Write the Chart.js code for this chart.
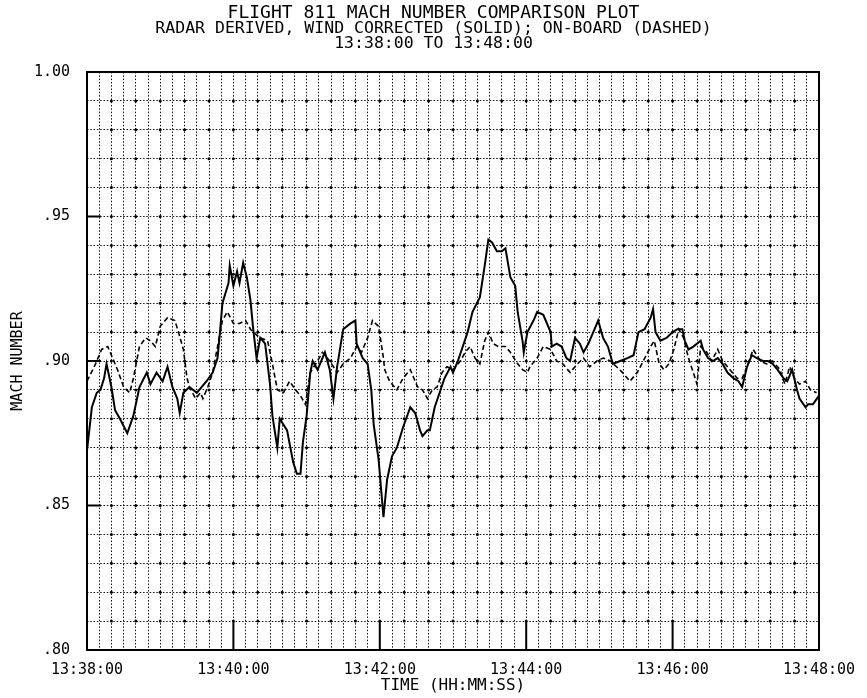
<!DOCTYPE html>
<html><head><meta charset="utf-8">
<script src="https://cdn.jsdelivr.net/npm/chart.js@4/dist/chart.umd.min.js"></script>
<style>html,body{margin:0;padding:0;background:#fff}#wrap{width:867px;height:698px;position:relative}</style>
</head><body><div id="wrap"><canvas id="c"></canvas></div>
<script>
const titleMain = 'FLIGHT 811 MACH NUMBER COMPARISON PLOT';
const titleSub = ['RADAR DERIVED, WIND CORRECTED (SOLID); ON-BOARD (DASHED)', '13:38:00 TO 13:48:00'];
const xTitle = 'TIME (HH:MM:SS)';
const yTitle = 'MACH NUMBER';
const timeLabels = ['13:38:00','13:40:00','13:42:00','13:44:00','13:46:00','13:48:00'];
const yLabels = {80:'.80',85:'.85',90:'.90',95:'.95',100:'1.00'};

// seconds after 13:38:00
const solidT = [0,4,8,11,14,16,20,23,27,33,38,43,49,52,57,62,66,70,74,76,79,84,90,98,103,107,109,111,116,117,120,123,125,128,131,134,136,139,142,146,150,152,156,158,164,169,172,175,177,180,183,185,189,195,199,202,205,210,216,220,221,226,230,233,235,239,243,246,250,254,259,265,269,273,275,279,281,285,289,293,298,300,304,312,316,322,326,329,332,336,340,343,347,351,353,357,358,361,366,369,374,380,381,385,389,393,396,400,404,407,411,415,419,423,427,431,437,443,448,452,457,462,464,466,470,475,480,484,488,490,493,497,503,505,509,513,517,521,525,530,534,537,541,545,549,554,558,562,566,571,574,578,582,584,589,591,595,600];
const solidV = [.869,.884,.889,.890,.894,.899,.891,.883,.880,.875,.881,.891,.896,.892,.896,.893,.898,.891,.887,.882,.889,.891,.889,.893,.896,.901,.910,.920,.927,.933,.926,.931,.927,.934,.929,.921,.912,.901,.908,.906,.892,.881,.870,.880,.876,.865,.861,.861,.872,.881,.896,.900,.897,.903,.897,.887,.898,.911,.913,.914,.906,.901,.899,.890,.878,.866,.846,.859,.867,.870,.877,.884,.882,.876,.874,.876,.876,.884,.889,.894,.898,.896,.900,.910,.917,.922,.933,.942,.941,.938,.938,.939,.929,.926,.917,.907,.903,.910,.914,.917,.916,.910,.905,.906,.905,.901,.900,.908,.906,.903,.906,.910,.914,.908,.905,.899,.900,.901,.902,.910,.911,.915,.918,.910,.907,.908,.910,.911,.911,.907,.904,.905,.907,.904,.901,.900,.901,.899,.896,.894,.893,.891,.898,.902,.901,.900,.900,.899,.897,.894,.893,.897,.890,.887,.884,.885,.885,.888];

const dashT = [0,7,12,17,21,25,30,35,38,43,48,52,56,60,66,72,75,79,82,84,89,93,95,99,103,107,111,115,120,125,130,134,136,142,148,152,156,161,166,171,175,179,183,189,193,199,205,210,216,221,225,230,234,239,243,244,248,254,259,265,271,275,279,283,287,291,295,300,306,310,314,318,322,326,329,333,337,343,347,353,357,361,363,369,374,380,385,390,396,402,407,412,418,423,429,434,439,445,451,456,462,465,469,473,477,481,485,489,493,497,500,503,508,512,517,521,527,533,537,541,546,552,557,562,568,572,576,580,584,589,593,598];
const dashV = [.893,.899,.904,.905,.901,.897,.891,.889,.894,.905,.908,.907,.905,.912,.915,.914,.910,.904,.894,.891,.887,.889,.887,.891,.896,.905,.914,.917,.913,.913,.914,.911,.910,.908,.907,.899,.890,.889,.893,.890,.888,.885,.896,.900,.903,.900,.896,.899,.901,.905,.903,.908,.914,.912,.901,.897,.893,.890,.894,.897,.891,.890,.887,.890,.891,.896,.898,.897,.900,.903,.905,.901,.899,.907,.910,.906,.905,.905,.903,.899,.897,.896,.898,.901,.905,.904,.900,.899,.896,.899,.901,.898,.900,.901,.900,.898,.896,.893,.896,.900,.905,.907,.899,.897,.899,.904,.911,.908,.901,.896,.892,.905,.903,.900,.904,.900,.897,.894,.894,.898,.904,.900,.899,.900,.897,.892,.898,.894,.892,.893,.890,.889];

const FONT = "'DejaVu Sans Mono', 'Liberation Mono', monospace";

const decor = {
  id: 'decor',
  beforeDatasetsDraw(chart) {
    const {ctx, chartArea: a, scales: {x, y}} = chart;
    ctx.save();
    ctx.fillStyle = '#000';
    for (let k = 81; k <= 99; k++) {
      const py = y.getPixelForValue(k / 100);
      for (let s = 20; s < 600; s += 20) {
        const px = x.getPixelForValue(s);
        ctx.beginPath(); ctx.arc(px, py, 1.5, 0, Math.PI * 2); ctx.fill();
      }
    }
    ctx.strokeStyle = '#000'; ctx.lineWidth = 2;
    for (let k = 85; k <= 95; k += 5) {
      const py = y.getPixelForValue(k / 100);
      ctx.beginPath(); ctx.moveTo(a.left, py); ctx.lineTo(a.left + 14, py); ctx.stroke();
    }
    for (let s = 120; s < 600; s += 120) {
      const px = x.getPixelForValue(s);
      ctx.beginPath(); ctx.moveTo(px, a.bottom); ctx.lineTo(px, a.bottom - 28); ctx.stroke();
    }
    ctx.restore();
  },
  afterDatasetsDraw(chart) {
    const {ctx, chartArea: a} = chart;
    ctx.save();
    ctx.strokeStyle = '#000'; ctx.lineWidth = 2;
    ctx.strokeRect(a.left, a.top, a.right - a.left, a.bottom - a.top);
    ctx.restore();
  }
};

new Chart(document.getElementById('c'), {
  type: 'line',
  data: {
    datasets: [
      {label: 'Radar derived, wind corrected', data: solidT.map((t, i) => ({x: t, y: solidV[i]})),
       borderColor: '#000', borderWidth: 2, pointRadius: 0, tension: 0, fill: false},
      {label: 'On-board', data: dashT.map((t, i) => ({x: t, y: dashV[i]})),
       borderColor: '#000', borderWidth: 1.6, borderDash: [5, 3], pointRadius: 0, tension: 0, fill: false}
    ]
  },
  options: {
    responsive: true, maintainAspectRatio: false, animation: false,
    layout: {padding: 0},
    plugins: {
      legend: {display: false}, tooltip: {enabled: false},
      title: {display: true, text: titleMain, color: '#000', font: {family: FONT, size: 18, weight: 'normal', lineHeight: 0.9}, padding: {top: 5, bottom: 0}},
      subtitle: {display: true, text: titleSub, color: '#000', font: {family: FONT, size: 16.5, weight: 'normal', lineHeight: 0.92}, padding: {top: 0, bottom: 20.44}}
    },
    scales: {
      x: {
        type: 'linear', min: 0, max: 600,
        afterFit(s) { s.height = 48; },
        grid: {color: '#111', lineWidth: 1, drawTicks: false},
        border: {display: false, dash: [1.5, 1.8]},
        ticks: {stepSize: 10, autoSkip: false, maxTicksLimit: 100, maxRotation: 0, minRotation: 0, padding: 11,
          color: '#000', font: {family: FONT, size: 15},
          callback: v => { const s = Math.round(v); return s % 120 === 0 ? timeLabels[s / 120] : ''; }},
        title: {display: true, text: xTitle, color: '#000', font: {family: FONT, size: 16}, padding: {top: 0, bottom: 2.4}}
      },
      y: {
        min: 0.8, max: 1.0,
        afterFit(s) { s.width = 87; },
        grid: {color: '#111', lineWidth: 1, drawTicks: false},
        border: {display: false, dash: [1.5, 1.8]},
        ticks: {stepSize: 0.01, autoSkip: false, maxTicksLimit: 100, padding: 17, color: '#000', font: {family: FONT, size: 15},
          callback: v => { const k = Math.round(v * 100); return yLabels[k] || ''; }},
        title: {display: true, text: yTitle, color: '#000', font: {family: FONT, size: 15}, padding: {top: 9, bottom: 0}}
      },
      yRight: {
        position: 'right', min: 0.8, max: 1.0,
        afterFit(s) { s.width = 48; },
        grid: {display: false, drawTicks: false},
        border: {display: false},
        ticks: {display: false}
      }
    }
  },
  plugins: [decor]
});
</script></body></html>
